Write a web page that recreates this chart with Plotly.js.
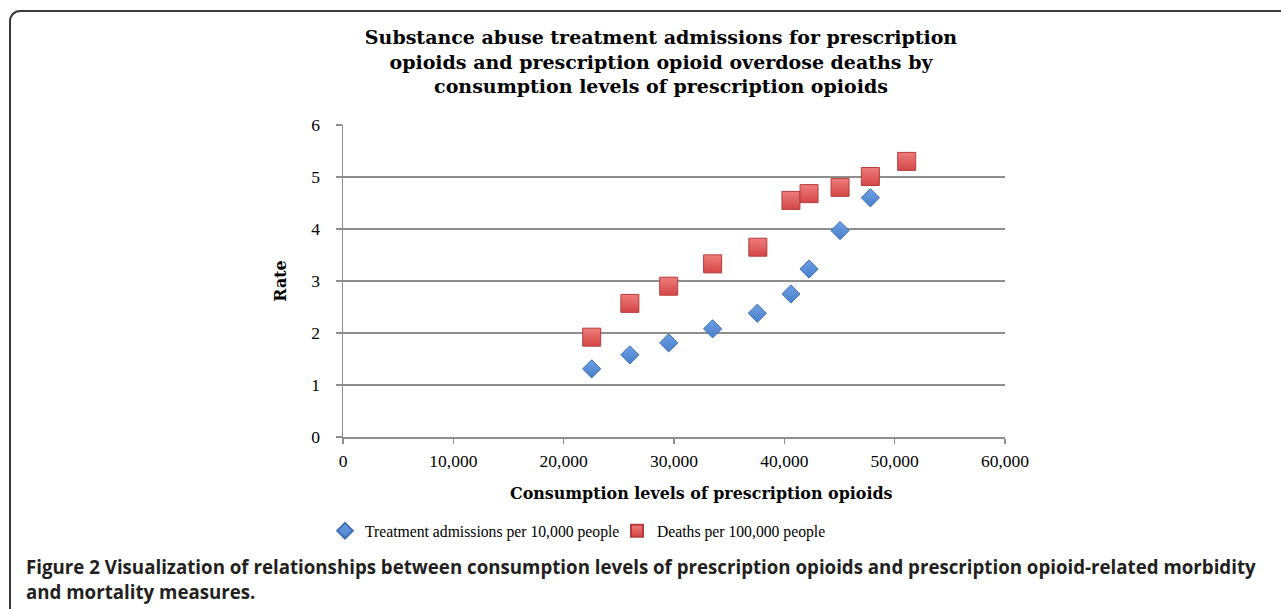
<!DOCTYPE html>
<html>
<head>
<meta charset="utf-8">
<script src="https://cdn.plot.ly/plotly-3.0.1.min.js"></script>
<style>
  html, body { margin: 0; padding: 0; background: #fff; }
  #wrap { position: relative; width: 1281px; height: 609px; overflow: hidden; }
  #frame { position: absolute; left: 9px; top: 10px; width: 1300px; height: 640px;
           border-left: 2px solid #3a3a3a; border-top: 2px solid #3a3a3a;
           border-top-left-radius: 11px; box-sizing: border-box; }
  #chart { position: absolute; left: 0; top: 0; width: 1281px; height: 609px; }
</style>
</head>
<body>
<div id="wrap">
  <div id="frame"></div>
  <div id="chart"></div>
</div>
<script>
// Data
const consumptionTreatment = [22540, 26000, 29520, 33500, 37550, 40600, 42240, 45050, 47800];
const treatmentRate        = [1.31, 1.58, 1.81, 2.08, 2.38, 2.75, 3.23, 3.97, 4.60];
const consumptionDeaths    = [22540, 26000, 29520, 33500, 37600, 40600, 42240, 45050, 47800, 51090];
const deathRate            = [1.92, 2.57, 2.90, 3.33, 3.65, 4.55, 4.68, 4.80, 5.01, 5.30];
const xTickVals  = [0, 10000, 20000, 30000, 40000, 50000, 60000];
const xTickText  = ["0", "10,000", "20,000", "30,000", "40,000", "50,000", "60,000"];
const yTickVals  = [0, 1, 2, 3, 4, 5, 6];
const seriesNames = ["Treatment admissions per 10,000 people", "Deaths per 100,000 people"];

const serif = "Liberation Serif, Times New Roman, serif";
const wideSerif = "DejaVu Serif, serif";
const sans = "Open Sans, Lato, sans-serif";

const traces = [
  {
    type: "scatter", mode: "markers", name: seriesNames[0],
    x: consumptionTreatment, y: treatmentRate,
    marker: { symbol: "diamond", size: 14, color: "#6c9fe3",
              gradient: { type: "vertical", color: "#4a7fcb" },
              line: { color: "#3e6fb5", width: 1 } }
  },
  {
    type: "scatter", mode: "markers", name: seriesNames[1],
    x: consumptionDeaths, y: deathRate,
    marker: { symbol: "square", size: 18, color: "#ef7d7d",
              gradient: { type: "vertical", color: "#d44646" },
              line: { color: "#b53c3c", width: 1 } }
  }
];

const px = (p) => (p - 343) / 662;   // pixel -> paper x
const py = (p) => (437 - p) / 312;   // pixel -> paper y

const layout = {
  width: 1281, height: 609,
  margin: { l: 343, r: 276, t: 125, b: 172 },
  paper_bgcolor: "rgba(0,0,0,0)",
  plot_bgcolor: "rgba(0,0,0,0)",
  showlegend: true,
  title: {
    text: "<b>Substance abuse treatment admissions for prescription<br>opioids and prescription opioid overdose deaths by<br>consumption levels of prescription opioids</b>",
    font: { family: wideSerif, size: 19, color: "#000" },
    xref: "container", x: 661 / 1281, xanchor: "center",
    yref: "container", y: 1 - 44 / 609, yanchor: "top"
  },
  xaxis: {
    range: [0, 60000], tickvals: xTickVals, ticktext: xTickText,
    showgrid: false, zeroline: false,
    showline: true, linecolor: "#8e8e8e", linewidth: 1.5,
    ticks: "outside", ticklen: 5, tickcolor: "#8e8e8e", tickwidth: 1.5,
    ticklabelstandoff: 2,
    tickfont: { family: serif, size: 17.5, color: "#000" },
    fixedrange: true
  },
  yaxis: {
    range: [0, 6], tickvals: yTickVals,
    showgrid: true, gridcolor: "#8e8e8e", gridwidth: 1.5,
    zeroline: false,
    showline: true, linecolor: "#8e8e8e", linewidth: 1.5,
    ticks: "outside", ticklen: 6, tickcolor: "#8e8e8e", tickwidth: 1.5,
    ticklabelstandoff: 12,
    tickfont: { family: serif, size: 17.5, color: "#000" },
    title: { text: "<b>Rate</b>", font: { family: wideSerif, size: 15.9, color: "#000" }, standoff: 20 },
    fixedrange: true
  },
  legend: {
    orientation: "h", x: px(325), xanchor: "left", y: py(531), yanchor: "middle",
    font: { family: serif, size: 15.7, color: "#000" },
    itemsizing: "constant", entrywidth: 247, entrywidthmode: "pixels",
    bgcolor: "rgba(0,0,0,0)", tracegroupgap: 0
  },
  annotations: [
    { text: "<b>Consumption levels of prescription opioids</b>",
      xref: "paper", yref: "paper", x: px(701), y: py(493), xanchor: "center", yanchor: "middle",
      showarrow: false, font: { family: wideSerif, size: 15.9, color: "#000" } },
    { text: "<b>Figure 2</b> <b>Visualization of relationships between consumption levels of prescription opioids and prescription opioid-related morbidity</b>",
      xref: "paper", yref: "paper", x: px(24), y: py(566), xanchor: "left", yanchor: "middle",
      showarrow: false, font: { family: sans, size: 18.7, color: "#231f20" } },
    { text: "<b>and mortality measures.</b>",
      xref: "paper", yref: "paper", x: px(24), y: py(591), xanchor: "left", yanchor: "middle",
      showarrow: false, font: { family: sans, size: 18.7, color: "#231f20" } }
  ]
};

Plotly.newPlot("chart", traces, layout, { staticPlot: true, displayModeBar: false });
</script>
</body>
</html>
